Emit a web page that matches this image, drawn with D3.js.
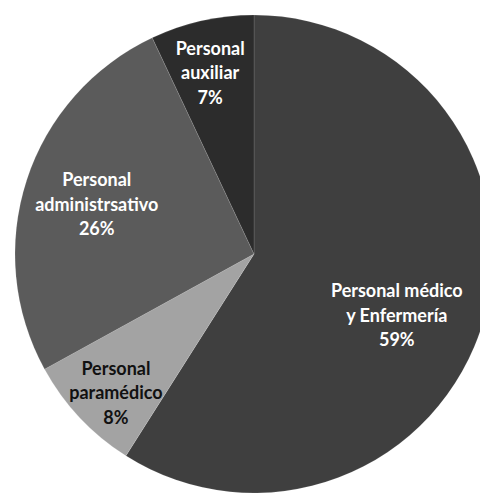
<!DOCTYPE html>
<html>
<head>
<meta charset="utf-8">
<script src="https://cdn.jsdelivr.net/npm/d3@7"></script>
<style>
  html, body { margin: 0; padding: 0; background: #fff; }
  svg { display: block; }
  .label { font-family: Lato, "Open Sans", sans-serif; font-weight: 700; font-size: 18px; }
</style>
</head>
<body>
<svg id="chart" width="480" height="493"></svg>
<script>
// chart values
const categories = ['Personal médico y Enfermería', 'Personal paramédico', 'Personal administrsativo', 'Personal auxiliar'];
const shares = [59, 8, 26, 7];
const labelLines = [
  ['Personal médico', 'y Enfermería'],
  ['Personal', 'paramédico'],
  ['Personal', 'administrsativo'],
  ['Personal', 'auxiliar'],
];

// styling per slice (not data)
const fills = ['#3f3f3f', '#a3a3a3', '#5b5b5b', '#2c2c2c'];
const textFills = ['#fff', '#111', '#fff', '#fff'];
// where each label sits: fraction of radius, and angle tweak in degrees
const labelPlacement = [
  { r: 0.65, da: 7 },
  { r: 0.82, da: -2 },
  { r: 0.69, da: -0.5 },
  { r: 0.78, da: -1 },
];

const svg = d3.select('#chart');
const cx = 254;
const cy = 254;
const radius = 239;

const pie = d3.pie().sort(null).value(d => d);
const arcs = pie(shares);

const arc = d3.arc().innerRadius(0).outerRadius(radius);

const g = svg.append('g').attr('transform', `translate(${cx},${cy})`);

g.selectAll('path.slice')
  .data(arcs)
  .enter().append('path')
  .attr('class', 'slice')
  .attr('d', arc)
  .attr('fill', (d, i) => fills[i])
  .attr('stroke', 'rgba(255,255,255,0.12)')
  .attr('stroke-width', 1);

const lineHeight = 24.5;

const labels = g.selectAll('text.label')
  .data(arcs)
  .enter().append('text')
  .attr('class', 'label')
  .attr('text-anchor', 'middle')
  .attr('fill', (d, i) => textFills[i])
  .attr('transform', (d, i) => {
    const p = labelPlacement[i];
    const a = (d.startAngle + d.endAngle) / 2 + p.da * Math.PI / 180;
    const r = radius * p.r;
    return `translate(${r * Math.sin(a)},${-r * Math.cos(a)})`;
  });

labels.each(function (d, i) {
  const lines = labelLines[i].concat([`${shares[i]}%`]);
  const t = d3.select(this);
  lines.forEach((txt, k) => {
    t.append('tspan')
      .attr('x', 0)
      .attr('y', (k - (lines.length - 1) / 2) * lineHeight)
      .attr('dy', '0.35em')
      .text(txt);
  });
});
</script>
</body>
</html>
